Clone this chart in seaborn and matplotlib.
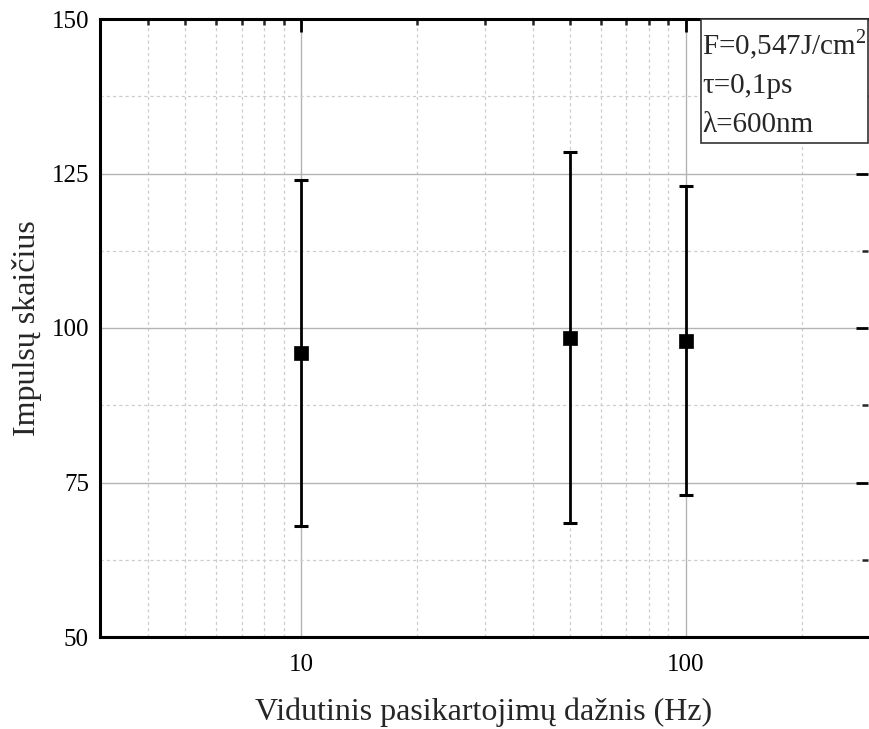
import matplotlib
matplotlib.use("Agg")
import matplotlib.pyplot as plt
import matplotlib.ticker as mticker
import seaborn as sns
import pandas as pd
from matplotlib.patches import Rectangle

# Data
freq = [10, 50, 100]
pulses = [96.0, 98.4, 97.9]
err_low = [68.0, 68.5, 73.0]
err_high = [124.0, 128.5, 123.0]
y_ticks = [50, 75, 100, 125, 150]
x_tick_labels = ["10", "100"]
info_lines = ["F=0,547J/cm$^{2}$", "τ=0,1ps", "λ=600nm"]

df = pd.DataFrame({"freq": freq, "pulses": pulses})

sns.set_style("white")
plt.rcParams['font.family'] = ['Liberation Serif', 'DejaVu Serif']
plt.rcParams['mathtext.fontset'] = 'custom'
plt.rcParams['mathtext.rm'] = 'Liberation Serif'

fig = plt.figure(figsize=(8.7, 7.29), dpi=100)
ax = fig.add_axes([100/870, 1-637/729, 768/870, 618/729])

ax.set_xscale("log")
ax.set_xlim(3, 297)
ax.set_ylim(50, 150)

# grids
ax.set_yticks(y_ticks)
ax.yaxis.set_minor_locator(mticker.MultipleLocator(12.5))
ax.xaxis.set_major_locator(mticker.FixedLocator([10, 100]))
ax.xaxis.set_major_formatter(mticker.FixedFormatter(x_tick_labels))
ax.xaxis.set_minor_locator(mticker.LogLocator(base=10, subs=range(2, 10), numticks=20))
ax.xaxis.set_minor_formatter(mticker.NullFormatter())
ax.grid(which="major", color="#b4b4b4", linewidth=1.0, linestyle="-")
ax.grid(which="minor", color="#cccccc", linewidth=0.9, linestyle=(0, (2.5, 2.5)))
ax.set_axisbelow(True)

# error bars
lower = [p - l for p, l in zip(pulses, err_low)]
upper = [h - p for p, h in zip(pulses, err_high)]
ax.errorbar(freq, pulses, yerr=[lower, upper], fmt="none", ecolor="black",
            elinewidth=2.0, capsize=5, capthick=2.2, zorder=3)
sns.scatterplot(data=df, x="freq", y="pulses", marker="s", s=110, color="black",
                edgecolor="black", linewidth=0.5, ax=ax, zorder=4)

# spines & ticks
for side in ["left", "bottom", "top"]:
    ax.spines[side].set_visible(True)
    ax.spines[side].set_linewidth(2.2)
    ax.spines[side].set_color("black")
ax.spines["right"].set_visible(False)
ax.tick_params(which="major", direction="in", length=9, width=2.0, top=True, right=True,
               labelsize=18, pad=8, colors="black")
ax.tick_params(which="minor", direction="in", length=4.5, width=1.8, top=True, right=True)
ax.tick_params(axis="x", which="major", pad=12)

ax.set_xlabel("Vidutinis pasikartojimų dažnis (Hz)", fontsize=23, labelpad=16)
ax.set_ylabel("Impulsų skaičius", fontsize=23, labelpad=7)

# info box
x0 = (701-100)/768
y0 = (637-143)/618
ax.add_patch(Rectangle((x0, y0), 1-x0, 1-y0, transform=ax.transAxes, fill=True,
                       facecolor="white", edgecolor="#333333", linewidth=1.2, zorder=5,
                       clip_on=False))
baselines = [55, 93, 132]
for txt, b in zip(info_lines, baselines):
    ax.text(x0 + 1.5/768, (637-b)/618, txt, transform=ax.transAxes, fontsize=21,
            ha="left", va="baseline", zorder=6)

fig.savefig("out.png", dpi=100)
